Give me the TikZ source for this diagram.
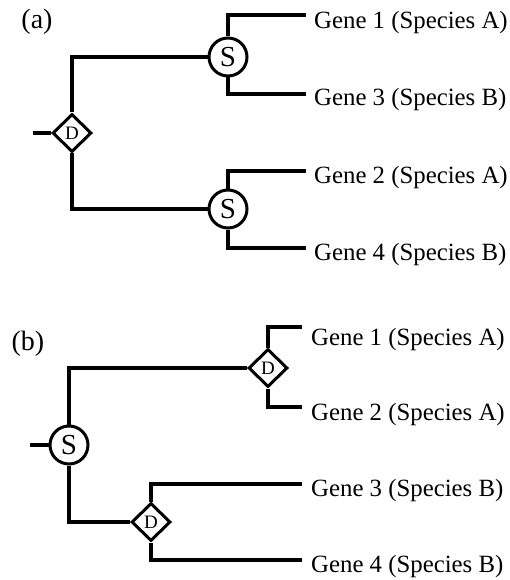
\documentclass[tikz,border=0pt]{standalone}
\usepackage{fontspec}
\setmainfont{Liberation Serif}
\usetikzlibrary{shapes.geometric}
\begin{document}
\begin{tikzpicture}[x=1pt,y=-1pt,
  br/.style={line width=3.6pt},
  spec/.style={circle, draw, line width=3pt, minimum size=38pt, inner sep=0pt, font=\fontsize{29}{29}\selectfont},
  dup/.style={diamond, draw, line width=3pt, minimum width=39pt, minimum height=38pt, inner sep=0pt, font=\fontsize{19}{19}\selectfont},
  lab/.style={anchor=base west, inner sep=0pt, font=\fontsize{24.8}{24.8}\selectfont},
  panel/.style={inner sep=0pt, font=\fontsize{28}{28}\selectfont}]
\useasboundingbox (0,0) rectangle (510,580);
% ---------- panel (a)
\node[panel] (pa) at (37,22) {(a)};
\node[dup] (Da) at (72,133) {D};
\node[spec] (Sa1) at (228,57) {S};
\node[spec] (Sa2) at (228,209) {S};
\coordinate (ra) at (33,133);
\coordinate (e1a) at (306,15);
\coordinate (e3a) at (306,94);
\coordinate (e2a) at (306,171);
\coordinate (e4a) at (306,248);
\node[lab] (g1a) at (314,29) {Gene 1 (Species A)};
\node[lab] (g3a) at (314,106) {Gene 3 (Species B)};
\node[lab] (g2a) at (314,183) {Gene 2 (Species A)};
\node[lab] (g4a) at (314,260) {Gene 4 (Species B)};
\draw[br] (ra) -- (Da.west);
\draw[br] (Da.north) |- (Sa1.west);
\draw[br] (Da.south) |- (Sa2.west);
\draw[br] (Sa1.north) |- (e1a);
\draw[br] (Sa1.south) |- (e3a);
\draw[br] (Sa2.north) |- (e2a);
\draw[br] (Sa2.south) |- (e4a);
% ---------- panel (b)
\node[panel] (pb) at (28,344) {(b)};
\node[spec] (Sb) at (69,445) {S};
\node[dup] (Db1) at (268,368) {D};
\node[dup] (Db2) at (151,522) {D};
\coordinate (rb) at (30,445);
\coordinate (e1b) at (302,327);
\coordinate (e2b) at (302,407);
\coordinate (e3b) at (302,484);
\coordinate (e4b) at (302,560);
\node[lab] (g1b) at (311,345) {Gene 1 (Species A)};
\node[lab] (g2b) at (311,420) {Gene 2 (Species A)};
\node[lab] (g3b) at (311,496) {Gene 3 (Species B)};
\node[lab] (g4b) at (311,572) {Gene 4 (Species B)};
\draw[br] (rb) -- (Sb.west);
\draw[br] (Sb.north) |- (Db1.west);
\draw[br] (Sb.south) |- (Db2.west);
\draw[br] (Db1.north) |- (e1b);
\draw[br] (Db1.south) |- (e2b);
\draw[br] (Db2.north) |- (e3b);
\draw[br] (Db2.south) |- (e4b);
\end{tikzpicture}
\end{document}
